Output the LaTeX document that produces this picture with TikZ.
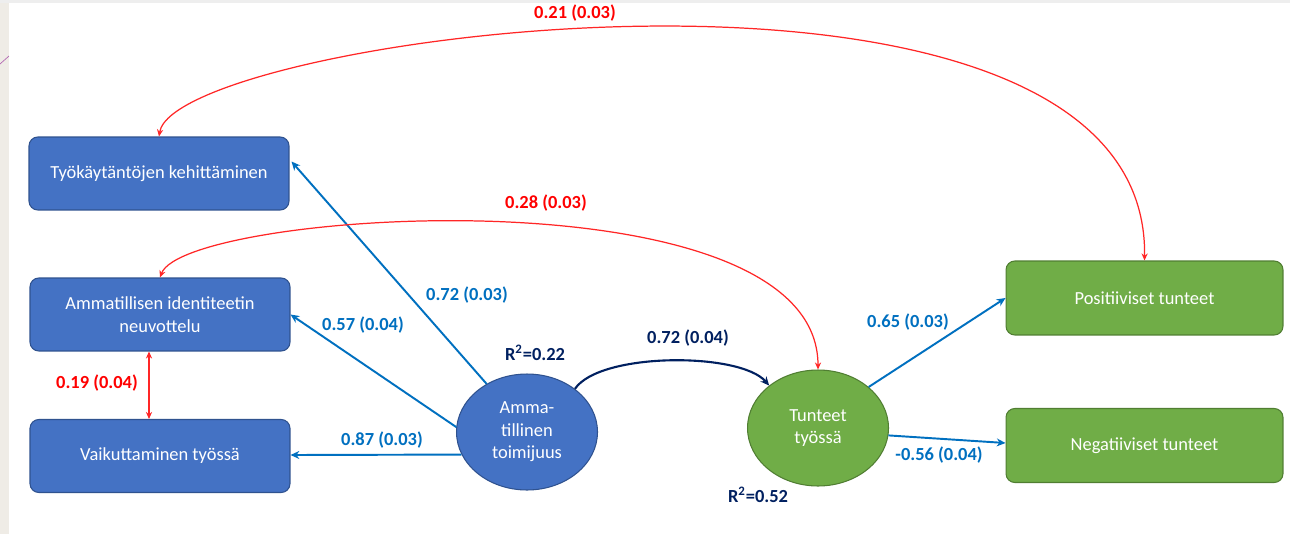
\documentclass[tikz,border=0pt]{standalone}
\usepackage{fontspec}
\setmainfont{Carlito}
\usetikzlibrary{shapes.geometric,arrows.meta,calc}
\definecolor{boxblue}{HTML}{4472C4}
\definecolor{boxblueline}{HTML}{2F528F}
\definecolor{boxgreen}{HTML}{70AD47}
\definecolor{boxgreenline}{HTML}{507E32}
\definecolor{pathblue}{HTML}{0070C0}
\definecolor{navy}{HTML}{002060}
\definecolor{corred}{HTML}{FF0000}
\definecolor{stripbeige}{HTML}{EFECE6}
\definecolor{topgray}{HTML}{EEEEEE}
\tikzset{
  bluebox/.style={draw=boxblueline, line width=0.6pt, fill=boxblue, rounded corners=5pt,
    minimum width=5.2cm, minimum height=1.46cm, text=white, font=\fontsize{10.5}{13}\selectfont, align=center},
  greenbox/.style={draw=boxgreenline, line width=0.6pt, fill=boxgreen, rounded corners=5pt,
    minimum width=5.54cm, minimum height=1.48cm, text=white, font=\fontsize{10.5}{13}\selectfont, align=center},
  latent/.style={ellipse, draw=boxblueline, line width=0.6pt, minimum width=2.82cm, minimum height=2.32cm,
    text=white, font=\fontsize{10.5}{12.8}\selectfont, align=center, inner sep=0pt},
  bluearrow/.style={draw=pathblue, line width=1.1pt, -{Stealth[length=5pt,width=4.5pt]}},
  navyarrow/.style={draw=navy, line width=1.2pt, -{Stealth[length=5pt,width=4.5pt]}},
  redboth/.style={draw=corred!85!white, line width=0.7pt, {Stealth[length=4pt,width=3.5pt]}-{Stealth[length=4pt,width=3.5pt]}},
  bluelabel/.style={text=pathblue, font=\fontsize{10.5}{12}\selectfont\bfseries},
  redlabel/.style={text=corred, font=\fontsize{10.5}{12}\selectfont\bfseries},
  navylabel/.style={text=navy, font=\fontsize{10.5}{12}\selectfont\bfseries},
}
\begin{document}
\begin{tikzpicture}[x=0.02cm, y=-0.02cm]
\useasboundingbox (0,0) rectangle (1290,534);
\fill[white] (0,0) rectangle (1290,534);
\fill[stripbeige] (0,0) rectangle (9,534);
\fill[topgray] (0,0) rectangle (1290,3);
\draw[draw=violet!60, line width=0.4pt] (0,64) -- (9,56);

% nodes
\node[bluebox] (b1) at (159,173.5) {Työkäytäntöjen kehittäminen};
\node[bluebox] (b2) at (160,314.5) {Ammatillisen identiteetin\\neuvottelu};
\node[bluebox] (b3) at (160,456) {Vaikuttaminen työssä};
\node[latent, fill=boxblue, draw=boxblueline] (c1) at (527,432) {Amma-\\tillinen\\toimijuus};
\node[latent, fill=boxgreen, draw=boxgreenline] (c2) at (818,428) {Tunteet\\työssä};
\node[greenbox] (p) at (1144.5,298) {Positiiviset tunteet};
\node[greenbox] (n) at (1144.5,445.5) {Negatiiviset tunteet};

% blue paths
\draw[bluearrow] (c1.130) -- ($(b1.east)+(2,-12)$);
\draw[bluearrow] (c1.176) -- ($(b2.east)+(0,0)$);
\draw[bluearrow] (c1.199) -- ($(b3.east)+(0,-1)$);
\draw[bluearrow] (c2.39) -- ($(p.west)+(0,0)$);
\draw[bluearrow] (c2.-6) -- ($(n.west)+(0,-2.5)$);

% navy path
\draw[navyarrow] (c1.42) .. controls (600,352) and (740,352) .. (c2.139);

% red correlations
\draw[redboth] ($(b2.south)+(-11,0)$) -- ($(b3.north)+(-11,0)$);
\draw[redboth] (b1.north) .. controls (175,35) and (1150,-95) .. (p.north);
\draw[redboth] (b2.north) .. controls (185,210) and (818,168) .. (c2.north);

% labels
\node[bluelabel] (l1) at (467,295) {0.72 (0.03)};
\node[bluelabel] (l2) at (363,325) {0.57 (0.04)};
\node[bluelabel] (l3) at (382,440) {0.87 (0.03)};
\node[bluelabel] (l4) at (908,322) {0.65 (0.03)};
\node[bluelabel] (l5) at (939,455) {-0.56 (0.04)};
\node[navylabel] (l6) at (688,338) {0.72 (0.04)};
\node[navylabel] (r1) at (535,353) {R\textsuperscript{2}=0.22};
\node[navylabel] (r2) at (758,495) {R\textsuperscript{2}=0.52};
\node[redlabel] (l7) at (97,383) {0.19 (0.04)};
\node[redlabel] (l8) at (575,13) {0.21 (0.03)};
\node[redlabel] (l9) at (546,203) {0.28 (0.03)};
\end{tikzpicture}
\end{document}
